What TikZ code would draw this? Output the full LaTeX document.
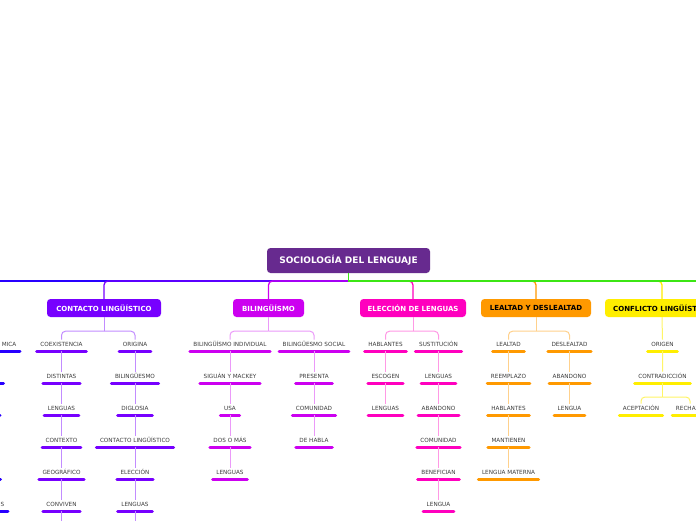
\documentclass[tikz,border=0pt]{standalone}
\usepackage{fontspec}
\setmainfont{DejaVu Sans}
\usetikzlibrary{calc}
\definecolor{cCenter}{RGB}{103,42,143}
\definecolor{cBlue}{RGB}{40,0,255}
\definecolor{cViolet}{RGB}{119,0,255}
\definecolor{cMag}{RGB}{204,0,240}
\definecolor{cPink}{RGB}{255,0,190}
\definecolor{cOrange}{RGB}{255,153,0}
\definecolor{cYellow}{RGB}{255,238,0}
\definecolor{cGreen}{RGB}{60,230,20}
\definecolor{cText}{RGB}{60,60,60}
\colorlet{lViolet}{cViolet!45}
\colorlet{lMag}{cMag!40}
\colorlet{lPink}{cPink!40}
\colorlet{lOrange}{cOrange!45}
\colorlet{lYellow}{cYellow!60}
\tikzset{
 topic/.style={rounded corners=3.5pt, minimum height=18pt, font=\bfseries\fontsize{7}{8}\selectfont, inner sep=0pt, text=white},
 item/.style={font=\fontsize{5.7}{6}\selectfont, text=cText, inner xsep=3.5pt, inner ysep=3pt, text height=4pt, text depth=1pt, anchor=south},
 bar/.style={line width=3pt, line cap=round},
 link/.style={line width=1pt},
 trunk/.style={line width=1.3pt, rounded corners=4pt},
}
\newcommand\mitem[5]{\node[item] (#1) at (#2,#3) {#5}; \draw[bar,#4] (#1.south west) -- (#1.south east);}
\begin{document}
\begin{tikzpicture}[x=1pt,y=-1pt]
\useasboundingbox (0,0) rectangle (696,520);
\clip (0,0) rectangle (696,520);
\fill[white] (0,0) rectangle (696,520);

% root and topics
\node[topic, fill=cCenter, minimum width=163pt, minimum height=25pt, font=\bfseries\fontsize{9}{10}\selectfont] (root) at (348.5,260.5) {SOCIOLOGÍA DEL LENGUAJE};
\node[topic, fill=cViolet, minimum width=114pt] (contacto) at (104,308) {CONTACTO LINGÜÍSTICO};
\node[topic, fill=cMag, minimum width=71pt] (bili) at (268.5,308) {BILINGÜÍSMO};
\node[topic, fill=cPink, minimum width=106pt] (eleccion) at (413,308) {ELECCIÓN DE LENGUAS};
\node[topic, fill=cOrange, text=black, minimum width=110pt] (lealtad) at (536,308) {LEALTAD Y DESLEALTAD};
\node[topic, fill=cYellow, text=black, minimum width=114pt] (conflicto) at (662,308) {CONFLICTO LINGÜÍSTICO};

\coordinate (hub) at (348.5,281);
\coordinate (offL) at (-20,281);
\coordinate (offR) at (720,281);
\draw[trunk,cBlue] (hub) -- (offL);
\draw[trunk,cViolet] (hub) -| (contacto.north);
\draw[trunk,cMag] (hub) -| (bili.north);
\draw[trunk,cYellow] (hub) -| (conflicto.north);
\draw[trunk,cOrange] (hub) -| (lealtad.north);
\draw[trunk,cPink] (hub) -| (eleccion.north);
\draw[line width=1.3pt,cGreen] (root.south) -- (hub) -- (offR);

% left (blue) branch, mostly outside
\node[item, anchor=south east] (bl1) at (20,351) {MICA};
\draw[bar,cBlue] (bl1.south west) -- (bl1.south east);
\node[item, anchor=south east] (bl5) at (8,511) {S};
\draw[bar,cBlue] (-20,511) -- (bl5.south east);
\draw[bar,cBlue] (-20,383) -- (3.5,383);
\draw[bar,cBlue] (-20,415) -- (0,415);
\draw[bar,cBlue] (-20,479) -- (0.5,479);

% CONTACTO LINGUISTICO
\mitem{c1a}{61.5}{351}{cViolet}{COEXISTENCIA}
\mitem{c1b}{61.5}{383}{cViolet}{DISTINTAS}
\mitem{c1c}{61.5}{415}{cViolet}{LENGUAS}
\mitem{c1d}{61.5}{447}{cViolet}{CONTEXTO}
\mitem{c1e}{61.5}{479}{cViolet}{GEOGRÁFICO}
\mitem{c1f}{61.5}{511}{cViolet}{CONVIVEN}
\mitem{c2a}{135}{351}{cViolet}{ORIGINA}
\mitem{c2b}{135}{383}{cViolet}{BILINGÜESMO}
\mitem{c2c}{135}{415}{cViolet}{DIGLOSIA}
\mitem{c2d}{135}{447}{cViolet}{CONTACTO LINGÜÍSTICO}
\mitem{c2e}{135}{479}{cViolet}{ELECCIÓN}
\mitem{c2f}{135}{511}{cViolet}{LENGUAS}
\coordinate (c1g) at (61.5,540);
\coordinate (c2g) at (135,540);
\draw[link,lViolet] (contacto.south) -- ++(0,14) coordinate (cj);
\draw[link,lViolet,rounded corners=4pt] (cj) -| (c1a.north);
\draw[link,lViolet,rounded corners=4pt] (cj) -| (c2a.north);
\draw[link,lViolet] (c1a.south) -- (c1b.north) (c1b.south) -- (c1c.north) (c1c.south) -- (c1d.north) (c1d.south) -- (c1e.north) (c1e.south) -- (c1f.north) (c1f.south) -- (c1g);
\draw[link,lViolet] (c2a.south) -- (c2b.north) (c2b.south) -- (c2c.north) (c2c.south) -- (c2d.north) (c2d.south) -- (c2e.north) (c2e.south) -- (c2f.north) (c2f.south) -- (c2g);

% BILINGUISMO
\mitem{b1a}{230}{351}{cMag}{BILINGÜÍSMO INDIVIDUAL}
\mitem{b1b}{230}{383}{cMag}{SIGUÁN Y MACKEY}
\mitem{b1c}{230}{415}{cMag}{USA}
\mitem{b1d}{230}{447}{cMag}{DOS O MÁS}
\mitem{b1e}{230}{479}{cMag}{LENGUAS}
\mitem{b2a}{314}{351}{cMag}{BILINGÜESMO SOCIAL}
\mitem{b2b}{314}{383}{cMag}{PRESENTA}
\mitem{b2c}{314}{415}{cMag}{COMUNIDAD}
\mitem{b2d}{314}{447}{cMag}{DE HABLA}
\draw[link,lMag] (bili.south) -- ++(0,14) coordinate (bj);
\draw[link,lMag,rounded corners=4pt] (bj) -| (b1a.north);
\draw[link,lMag,rounded corners=4pt] (bj) -| (b2a.north);
\draw[link,lMag] (b1a.south) -- (b1b.north) (b1b.south) -- (b1c.north) (b1c.south) -- (b1d.north) (b1d.south) -- (b1e.north);
\draw[link,lMag] (b2a.south) -- (b2b.north) (b2b.south) -- (b2c.north) (b2c.south) -- (b2d.north);

% ELECCION DE LENGUAS
\mitem{e1a}{385.5}{351}{cPink}{HABLANTES}
\mitem{e1b}{385.5}{383}{cPink}{ESCOGEN}
\mitem{e1c}{385.5}{415}{cPink}{LENGUAS}
\mitem{e2a}{438.5}{351}{cPink}{SUSTITUCIÓN}
\mitem{e2b}{438.5}{383}{cPink}{LENGUAS}
\mitem{e2c}{438.5}{415}{cPink}{ABANDONO}
\mitem{e2d}{438.5}{447}{cPink}{COMUNIDAD}
\mitem{e2e}{438.5}{479}{cPink}{BENEFICIAN}
\mitem{e2f}{438.5}{511}{cPink}{LENGUA}
\draw[link,lPink] (eleccion.south) -- ++(0,14) coordinate (ej);
\draw[link,lPink,rounded corners=4pt] (ej) -| (e1a.north);
\draw[link,lPink,rounded corners=4pt] (ej) -| (e2a.north);
\draw[link,lPink] (e1a.south) -- (e1b.north) (e1b.south) -- (e1c.north);
\draw[link,lPink] (e2a.south) -- (e2b.north) (e2b.south) -- (e2c.north) (e2c.south) -- (e2d.north) (e2d.south) -- (e2e.north) (e2e.south) -- (e2f.north);

% LEALTAD Y DESLEALTAD
\mitem{l1a}{508.5}{351}{cOrange}{LEALTAD}
\mitem{l1b}{508.5}{383}{cOrange}{REEMPLAZO}
\mitem{l1c}{508.5}{415}{cOrange}{HABLANTES}
\mitem{l1d}{508.5}{447}{cOrange}{MANTIENEN}
\mitem{l1e}{508.5}{479}{cOrange}{LENGUA MATERNA}
\mitem{l2a}{569.5}{351}{cOrange}{DESLEALTAD}
\mitem{l2b}{569.5}{383}{cOrange}{ABANDONO}
\mitem{l2c}{569.5}{415}{cOrange}{LENGUA}
\draw[link,lOrange] (lealtad.south) -- ++(0,14) coordinate (lj);
\draw[link,lOrange,rounded corners=4pt] (lj) -| (l1a.north);
\draw[link,lOrange,rounded corners=4pt] (lj) -| (l2a.north);
\draw[link,lOrange] (l1a.south) -- (l1b.north) (l1b.south) -- (l1c.north) (l1c.south) -- (l1d.north) (l1d.south) -- (l1e.north);
\draw[link,lOrange] (l2a.south) -- (l2b.north) (l2b.south) -- (l2c.north);

% CONFLICTO LINGUISTICO
\mitem{k1}{662.5}{351}{cYellow}{ORIGEN}
\mitem{k2}{662.5}{383}{cYellow}{CONTRADICCIÓN}
\mitem{k3}{641}{415}{cYellow}{ACEPTACIÓN}
\mitem{k4}{690}{415}{cYellow}{RECHAZO}
\draw[link,lYellow] (conflicto.south) -- (k1.north) (k1.south) -- (k2.north);
\draw[link,lYellow] (k2.south) -- ++(0,14) coordinate (kj);
\draw[link,lYellow,rounded corners=4pt] (kj) -| (k3.north);
\draw[link,lYellow,rounded corners=4pt] (kj) -| (k4.north);
\end{tikzpicture}
\end{document}
